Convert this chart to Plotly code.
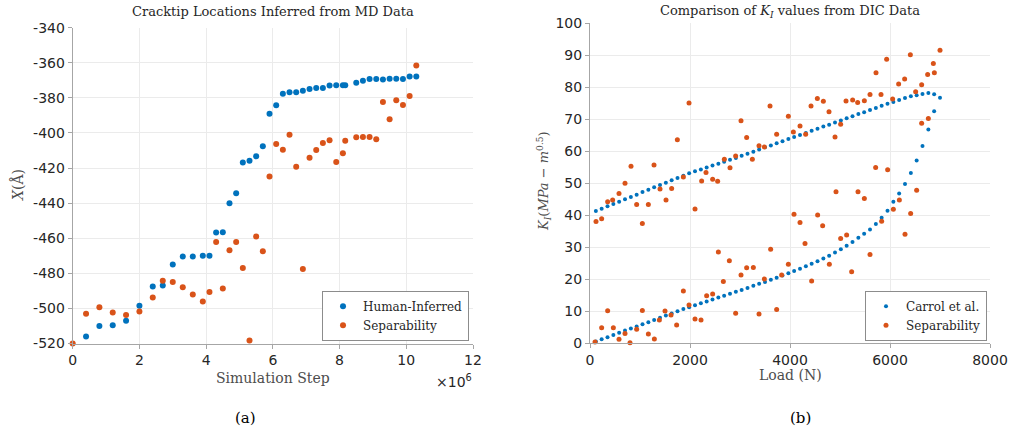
import plotly.graph_objects as go

# ---------------- Data: left panel (Simulation step in units of 1e6) ----------------
human_step = [0.4, 0.8, 1.2, 1.6, 2.0, 2.4, 2.7, 3.0, 3.3, 3.6, 3.9, 4.1, 4.3, 4.5, 4.7,
              4.9, 5.1, 5.3, 5.5, 5.7, 5.9, 6.1, 6.3, 6.5, 6.7, 6.9, 7.1, 7.3, 7.5, 7.7,
              7.9, 8.1, 8.17, 8.5, 8.7, 8.9, 9.1, 9.3, 9.5, 9.7, 9.9, 10.1, 10.3]
human_x = [-516, -510, -509.6, -507, -498.5, -487.5, -487, -475, -470.4, -470.4, -470, -470,
           -456.8, -456.6, -440, -434.3, -416.8, -415.8, -413.3, -407.6, -389.1, -384.2,
           -377.7, -376.8, -376.8, -376, -374.9, -374.3, -374.3, -373, -372.8, -372.8,
           -372.8, -371.4, -370.3, -369.3, -369.3, -369.5, -369.1, -369.1, -369.3, -367.8, -367.8]

sep_step = [0, 0.4, 0.8, 1.2, 1.6, 2.0, 2.4, 2.7, 3.0, 3.3, 3.6, 3.9, 4.1, 4.3, 4.5, 4.7,
            4.9, 5.1, 5.3, 5.5, 5.7, 5.9, 6.1, 6.3, 6.5, 6.7, 6.9, 7.1, 7.3, 7.5, 7.7,
            7.9, 8.1, 8.17, 8.5, 8.7, 8.9, 9.1, 9.3, 9.5, 9.7, 9.9, 10.1, 10.3]
sep_x = [-520, -503, -499.4, -502.3, -503.8, -501.7, -493.8, -484.3, -484.9, -487.9, -492.1,
         -496, -490.6, -462.1, -488.7, -466.8, -462.1, -477, -518.3, -459, -467.4, -424.8,
         -406.3, -409.5, -401, -419.2, -477.5, -414.1, -409.7, -405.7, -404.2, -416.6,
         -411.6, -404.4, -402.5, -402.3, -402.3, -403.6, -382.3, -392.2, -381.3, -384,
         -378.9, -361.5]

left_xticks = [0, 2, 4, 6, 8, 10, 12]
left_yticks = [-520, -500, -480, -460, -440, -420, -400, -380, -360, -340]

# ---------------- Data: right panel ----------------
carrol_load_upper = [117, 233, 350, 467, 583, 700, 817, 933, 1050, 1167, 1283, 1400, 1517, 1633,
                     1750, 1867, 1983, 2100, 2217, 2333, 2450, 2567, 2683, 2800, 2917, 3033,
                     3150, 3267, 3383, 3500, 3617, 3733, 3850, 3967, 4083, 4200, 4317, 4433,
                     4550, 4667, 4783, 4900, 5017, 5133, 5250, 5367, 5483, 5600, 5717, 5833,
                     5950, 6067, 6183, 6300, 6417, 6533, 6650, 6767, 6883, 7000]
carrol_k_upper = [41.3, 42.0, 42.8, 43.5, 44.2, 45.0, 45.7, 46.4, 47.2, 47.9, 48.7, 49.4, 50.1,
                  50.9, 51.6, 52.3, 53.1, 53.7, 54.3, 54.9, 55.5, 56.1, 56.7, 57.3, 57.9, 58.6,
                  59.2, 59.8, 60.5, 61.2, 61.8, 62.5, 63.1, 63.8, 64.4, 65.1, 65.7, 66.4, 67.0,
                  67.7, 68.3, 69.0, 69.6, 70.3, 70.9, 71.6, 72.2, 72.9, 73.5, 74.2, 74.8, 75.4,
                  76.0, 76.6, 77.2, 77.5, 77.9, 78.2, 77.8, 76.7]
carrol_load_lower = [117, 233, 350, 467, 583, 700, 817, 933, 1050, 1167, 1283, 1400, 1517, 1633,
                     1750, 1867, 1983, 2100, 2217, 2333, 2450, 2567, 2683, 2800, 2917, 3033,
                     3150, 3267, 3383, 3500, 3617, 3733, 3850, 3967, 4083, 4200, 4317, 4433,
                     4550, 4667, 4783, 4900, 5017, 5133, 5250, 5367, 5483, 5600, 5717, 5833,
                     5950, 6067, 6183, 6300, 6417, 6533, 6650, 6767, 6883]
carrol_k_lower = [0.5, 1.2, 1.8, 2.5, 3.2, 3.9, 4.5, 5.2, 5.9, 6.5, 7.2, 7.9, 8.6, 9.2, 9.9,
                  10.6, 11.2, 11.8, 12.4, 13.0, 13.6, 14.2, 14.8, 15.4, 16.0, 16.6, 17.2, 17.9,
                  18.5, 19.1, 19.8, 20.4, 21.1, 21.8, 22.5, 23.2, 24.0, 24.8, 25.6, 26.4, 27.3,
                  28.3, 29.3, 30.4, 31.6, 32.9, 34.2, 35.5, 37.2, 39.2, 41.4, 44.2, 46.8, 49.7,
                  53.2, 57.1, 61.6, 66.8, 72.5]

sep_load = [100, 120, 233, 233, 353, 353, 453, 467, 580, 580, 700, 700, 800, 820, 933, 933,
            1047, 1047, 1167, 1167, 1280, 1287, 1387, 1400, 1500, 1520, 1620, 1633, 1733, 1747,
            1867, 1867, 1980, 1980, 2100, 2100, 2220, 2233, 2320, 2333, 2453, 2453, 2553, 2567,
            2667, 2687, 2787, 2800, 2913, 2913, 3020, 3020, 3133, 3133, 3247, 3267, 3380, 3380,
            3487, 3487, 3600, 3613, 3733, 3733, 3833, 3967, 3967, 4067, 4080, 4200, 4200, 4300,
            4313, 4420, 4433, 4547, 4553, 4653, 4667, 4780, 4787, 4900, 4920, 5013, 5013, 5120,
            5133, 5233, 5253, 5353, 5360, 5487, 5487, 5600, 5600, 5713, 5720, 5820, 5833, 5933,
            5953, 6053, 6067, 6173, 6187, 6293, 6300, 6407, 6413, 6513, 6533, 6633, 6633, 6753,
            6767, 6867, 6887, 7000]
sep_k = [0.3, 38.0, 38.9, 4.8, 44.2, 10.1, 44.7, 4.8, 46.8, 1.2, 50.0, 3.0, 0.1, 55.3, 43.3, 4.3,
         37.4, 10.2, 43.3, 2.8, 55.7, 1.25, 7.2, 48.2, 10.0, 44.7, 8.75, 48.3, 5.6, 63.6,
         51.9, 16.3, 75.1, 11.9, 41.9, 7.5, 7.2, 50.7, 53.3, 14.8, 51.2, 15.3, 50.6, 28.5,
         19.2, 57.5, 25.7, 54.8, 58.5, 9.3, 69.5, 21.25, 64.3, 23.5, 57.5, 23.6, 61.7, 9.1,
         61.3, 20.0, 74.1, 29.3, 65.3, 10.5, 21.25, 70.9, 24.6, 66.0, 40.3, 67.9, 37.7, 31.1,
         65.3, 74.1, 19.4, 76.5, 40.0, 36.7, 75.6, 72.3, 24.6, 64.4, 47.3, 68.4, 32.7, 75.7,
         33.75, 22.3, 76.0, 75.2, 47.3, 75.8, 45.2, 77.7, 27.7, 54.9, 84.5, 77.7, 38.1, 88.75,
         54.2, 76.3, 41.8, 81.0, 44.7, 82.6, 34.0, 90.2, 40.5, 78.6, 47.8, 80.8, 68.7, 84.0,
         70.2, 87.4, 84.5, 91.6]

right_xticks = [0, 2000, 4000, 6000, 8000]
right_yticks = [0, 10, 20, 30, 40, 50, 60, 70, 80, 90, 100]

# ---------------- Styling ----------------
W, H = 1010, 436
BLUE = "#0072BD"
ORANGE = "#D95319"
SERIF = "DejaVu Serif"
SANS = "DejaVu Sans"
TICKCOL = "#262626"
GRID = "#ebebeb"
AXCOL = "#a6a6a6"


def px_x(p):
    return p / W


def px_y(p):
    return (H - p) / H


def serif_label(s):
    return "<span style='font-family:\"DejaVu Serif\"'>" + s + "</span>"


fig = go.Figure()

fig.add_trace(go.Scatter(x=human_step, y=human_x, mode="markers", name="Human-Inferred",
                         marker=dict(color=BLUE, size=6), cliponaxis=False,
                         xaxis="x", yaxis="y", legend="legend"))
fig.add_trace(go.Scatter(x=sep_step, y=sep_x, mode="markers", name="Separability",
                         marker=dict(color=ORANGE, size=6), cliponaxis=False,
                         xaxis="x", yaxis="y", legend="legend"))

fig.add_trace(go.Scatter(x=carrol_load_upper + carrol_load_lower,
                         y=carrol_k_upper + carrol_k_lower, mode="markers",
                         name=serif_label("Carrol et al."), marker=dict(color=BLUE, size=4),
                         cliponaxis=False, xaxis="x2", yaxis="y2", legend="legend2"))
fig.add_trace(go.Scatter(x=sep_load, y=sep_k, mode="markers",
                         name=serif_label("Separability"),
                         marker=dict(color=ORANGE, size=5), cliponaxis=False,
                         xaxis="x2", yaxis="y2", legend="legend2"))

axis_common = dict(showgrid=True, gridcolor=GRID, gridwidth=1, zeroline=False,
                   showline=True, linecolor=AXCOL, linewidth=1, ticks="outside",
                   ticklen=4, tickcolor=AXCOL, mirror=False, automargin=False,
                   tickfont=dict(family=SANS, size=14, color=TICKCOL))

legend_common = dict(xanchor="right", yanchor="bottom", bgcolor="white",
                     bordercolor="#8c8c8c", borderwidth=1,
                     font=dict(family=SERIF, size=12, color=TICKCOL), itemwidth=30,
                     tracegroupgap=0, itemsizing="trace")

fig.update_layout(
    template="none",
    width=W, height=H, autosize=False,
    font=dict(family=SERIF, size=12, color=TICKCOL),
    margin=dict(l=0, r=0, t=0, b=0, autoexpand=False),
    paper_bgcolor="white", plot_bgcolor="white",
    xaxis=dict(domain=[px_x(72.7), px_x(473)], range=[0, 12], anchor="y",
               tickvals=left_xticks, ticktext=[str(v) for v in left_xticks], **axis_common),
    yaxis=dict(domain=[px_y(343.5), px_y(27.7)], range=[-520, -340], anchor="x",
               tickvals=left_yticks, ticktext=[str(v) for v in left_yticks], **axis_common),
    xaxis2=dict(domain=[px_x(590), px_x(990)], range=[0, 8000], anchor="y2",
                tickvals=right_xticks, ticktext=[str(v) for v in right_xticks], **axis_common),
    yaxis2=dict(domain=[px_y(343), px_y(23.3)], range=[0, 100], anchor="x2",
                tickvals=right_yticks, ticktext=[str(v) for v in right_yticks], **axis_common),
    legend=dict(x=px_x(469), y=px_y(340.7), **legend_common),
    legend2=dict(x=px_x(987), y=px_y(340.7), **legend_common),
    showlegend=True,
)

annotations = [
    dict(text="Cracktip Locations Inferred from MD Data", x=px_x(272.5), y=px_y(12),
         font=dict(family=SERIF, size=13, color=TICKCOL)),
    dict(text="Comparison of <i>K<sub>I</sub></i> values from DIC Data", x=px_x(790),
         y=px_y(11.5), font=dict(family=SERIF, size=13, color=TICKCOL)),
    dict(text="Simulation Step", x=px_x(272.5), y=px_y(378),
         font=dict(family=SERIF, size=14, color="#4d4d4d")),
    dict(text="Load (N)", x=px_x(790), y=px_y(375),
         font=dict(family=SERIF, size=14, color="#4d4d4d")),
    dict(text="<i>X</i>(Å)", x=px_x(18), y=px_y(185), textangle=-90,
         font=dict(family=SERIF, size=14, color="#4d4d4d")),
    dict(text="<i>K<sub>I</sub></i>(<i>MPa</i> − <i>m</i><sup>0.5</sup>)", x=px_x(544),
         y=px_y(181), textangle=-90, font=dict(family=SERIF, size=13, color="#4d4d4d")),
    dict(text="×10<sup>6</sup>", x=px_x(474), y=px_y(381), xanchor="right",
         font=dict(family=SANS, size=14, color=TICKCOL)),
    dict(text="(a)", x=px_x(245), y=px_y(418), font=dict(family=SERIF, size=15, color="#000000")),
    dict(text="(b)", x=px_x(800), y=px_y(418), font=dict(family=SERIF, size=15, color="#000000")),
]
for a in annotations:
    a.setdefault("xref", "paper")
    a.setdefault("yref", "paper")
    a.setdefault("showarrow", False)
    a.setdefault("xanchor", "center")
    a.setdefault("yanchor", "middle")
fig.update_layout(annotations=annotations)

# Remove the page's default body margin so the figure sits at the window's corner.
fig.write_html("out.html", config={"displayModeBar": False},
               post_script="document.body.style.margin='0';document.body.style.overflow='hidden';")
